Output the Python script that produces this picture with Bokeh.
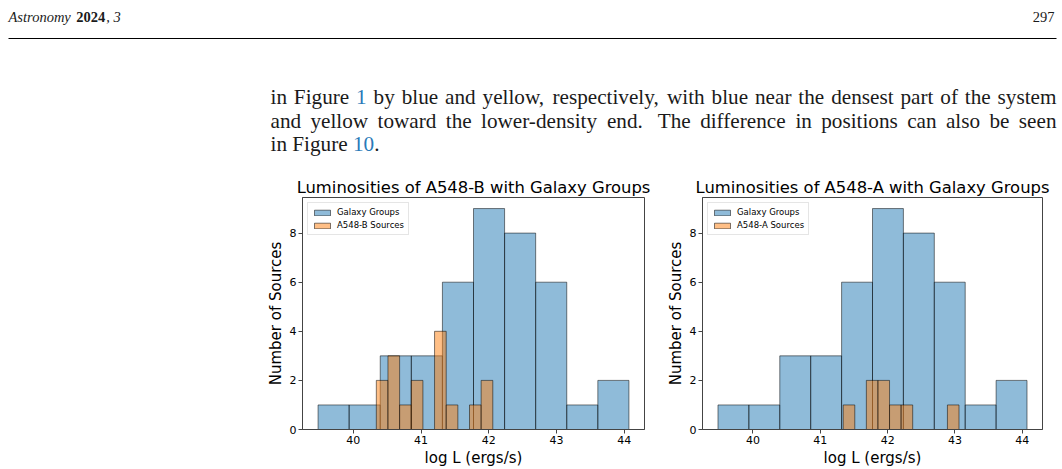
import numpy as np
from bokeh.plotting import figure
from bokeh.layouts import column, row
from bokeh.models import Range1d, FixedTicker, Spacer, ColumnDataSource, Legend, LegendItem
from bokeh.core.properties import value
from bokeh.embed import file_html
from bokeh.resources import INLINE

# Histogram data: (low, high) of the binned log L range and the counts per bin
group_range = (39.48, 44.07)
group_counts = [1, 1, 3, 3, 6, 9, 8, 6, 1, 2]
b_range = (40.34, 42.06)
b_counts = [2, 3, 1, 2, 0, 4, 1, 0, 1, 2]
a_range = (41.34, 43.06)
a_counts = [1, 0, 2, 2, 1, 1, 0, 0, 0, 1]
x_ticks = [40, 41, 42, 43, 44]
y_ticks = [0, 2, 4, 6, 8]

BLUE = "#1f77b4"
ORANGE = "#ff7f0e"
SANS = "DejaVu Sans"
SERIF = "Liberation Serif"
INK = "#1a1a1a"
LINK = "#2a7ab8"

# Advance widths (1/1000 em) of the serif face, used to justify the paragraph
ADV = dict(a=444, b=500, c=444, d=500, e=444, f=333, g=500, h=500, i=278, j=278,
           k=500, l=278, m=778, n=500, o=500, p=500, q=500, r=333, s=389, t=278,
           u=500, v=500, w=722, x=500, y=500, z=444)
ADV.update({" ": 250, ",": 250, ".": 250, "-": 333, "T": 611, "F": 556,
            "0": 500, "1": 500, "2": 500, "3": 500, "4": 500, "7": 500, "9": 500})


def width(s, fs):
    return sum(ADV.get(c, 500) for c in s) * fs / 1000.0


def bins(rng, counts):
    edges = np.linspace(rng[0], rng[1], len(counts) + 1)
    return ColumnDataSource(dict(left=edges[:-1], right=edges[1:],
                                 top=counts, bottom=[0] * len(counts)))


# ---- page header and paragraph ----
page = figure(width=1062, height=170, x_range=Range1d(0, 1062), y_range=Range1d(170, 0),
              x_axis_type=None, y_axis_type=None, output_backend="svg",
              toolbar_location=None, min_border=0)
page.grid.visible = False
page.outline_line_color = None


def put(x, y, s, size=21.2, style="normal", color=INK, align="left", font=SERIF):
    page.text(x=[x], y=[y], text=[s], text_font=value(font), text_font_size=f"{size}px",
              text_font_style=style, text_color=color, text_align=align,
              text_baseline="alphabetic")


def justified(words, y, x0, x1, fs, wide_after=()):
    """Lay out (word, colour) pairs so the line spans x0..x1."""
    total = sum(width(w, fs) for w, _ in words)
    weights = [1.6 if w in wide_after else 1.0 for w, _ in words[:-1]]
    unit = (x1 - x0 - total) / sum(weights)
    x = x0
    for k, (w, c) in enumerate(words):
        put(x, y, w, size=fs, color=c)
        if k < len(weights):
            x += width(w, fs) + unit * weights[k]


HS = 14.5
HY = 16
put(8, HY, "Astronomy", size=HS, style="italic")
x_year = 8 + width("Astronomy ", HS) + 2
put(x_year, HY, "2024", size=HS, style="bold")
put(x_year + width("2024", HS) + 1, HY, ", 3", size=HS, style="italic")
put(1054, HY, "297", size=HS, align="right")
page.segment(x0=[8], y0=[38], x1=[1056], y1=[38], line_color="black", line_width=1.2)

FS = 21.2
line1 = [(w, INK) for w in "in Figure".split()] + [("1", LINK)] + \
        [(w, INK) for w in "by blue and yellow, respectively, with blue near the densest part of the system".split()]
line2 = [(w, INK) for w in "and yellow toward the lower-density end. The difference in positions can also be seen".split()]
justified(line1, 96.5, 270, 1056, FS)
justified(line2, 120, 270, 1056, FS, wide_after=("end.",))
put(270, 143.5, "in Figure", size=FS)
x10 = 270 + width("in Figure ", FS)
put(x10, 143.5, "10", size=FS, color=LINK)
put(x10 + width("10", FS), 143.5, ".", size=FS)


# ---- histogram panels ----
def hist_panel(title, src_label, src_rng, src_counts, width_px, border_right):
    p = figure(width=width_px, height=299, x_range=Range1d(39.25, 44.30), y_range=Range1d(0, 9.45),
               output_backend="svg", toolbar_location=None,
               min_border_left=50, min_border_right=border_right,
               min_border_top=27, min_border_bottom=40)
    p.grid.visible = False
    p.outline_line_color = "#444444"
    p.outline_line_width = 1

    p.title.text = title
    p.title.text_font = SANS
    p.title.text_font_size = "16.4px"
    p.title.text_font_style = "normal"
    p.title.text_color = "black"
    p.title.align = "center"
    p.title.standoff = 2

    for ax in (p.xaxis[0], p.yaxis[0]):
        ax.axis_line_color = "#444444"
        ax.major_tick_out = 4
        ax.major_tick_in = 0
        ax.minor_tick_line_color = None
        ax.major_tick_line_color = "#444444"
        ax.major_label_text_font = SANS
        ax.major_label_text_font_size = "11px"
        ax.major_label_text_color = "black"
        ax.major_label_standoff = 2
        ax.axis_label_text_font = SANS
        ax.axis_label_text_font_size = "15px"
        ax.axis_label_text_font_style = "normal"
        ax.axis_label_text_color = "black"
        ax.axis_label_standoff = 2
    p.xaxis.ticker = FixedTicker(ticks=x_ticks)
    p.yaxis.ticker = FixedTicker(ticks=y_ticks)
    p.xaxis.axis_label = "log L (ergs/s)"
    p.yaxis.axis_label = "Number of Sources"

    g = p.quad(source=bins(group_range, group_counts), left="left", right="right",
               top="top", bottom="bottom", fill_color=BLUE, fill_alpha=0.5,
               line_color="black", line_alpha=0.5, line_width=1)
    s = p.quad(source=bins(src_rng, src_counts), left="left", right="right",
               top="top", bottom="bottom", fill_color=ORANGE, fill_alpha=0.5,
               line_color="black", line_alpha=0.5, line_width=1)

    legend = Legend(items=[LegendItem(label="Galaxy Groups", renderers=[g]),
                           LegendItem(label=src_label, renderers=[s])],
                    location="top_left")
    legend.margin = 5
    legend.padding = 4
    legend.spacing = 3
    legend.label_height = 10
    legend.glyph_height = 7
    legend.glyph_width = 20
    legend.label_standoff = 5
    legend.label_text_font = SANS
    legend.label_text_font_size = "8.5px"
    legend.label_text_color = "black"
    legend.border_line_color = "#cccccc"
    legend.border_line_width = 1
    legend.background_fill_alpha = 0.8
    p.add_layout(legend)
    return p


left = hist_panel("Luminosities of A548-B with Galaxy Groups", "A548-B Sources",
                  b_range, b_counts, width_px=400, border_right=8)
right = hist_panel("Luminosities of A548-A with Galaxy Groups", "A548-A Sources",
                   a_range, a_counts, width_px=410, border_right=20)

layout = column(page, row(Spacer(width=252, height=299), left, right))

open("out.html", "w").write(file_html(layout, INLINE))
